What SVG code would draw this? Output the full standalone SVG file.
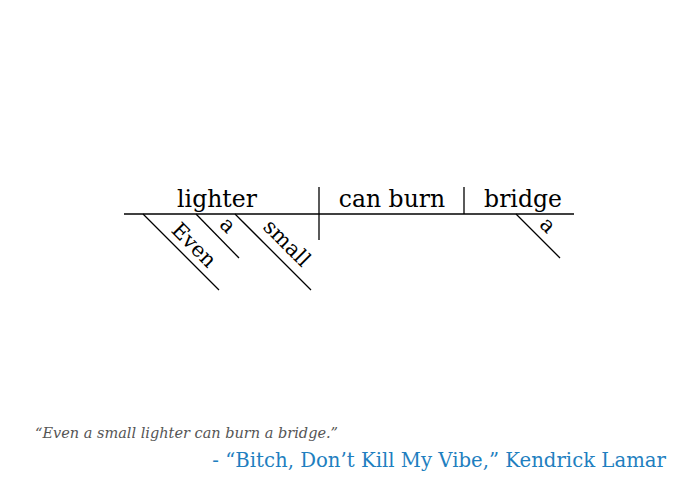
<svg xmlns="http://www.w3.org/2000/svg" width="700" height="500" viewBox="0 0 700 500">
<style>
.ln{stroke:#000;stroke-width:1.3;fill:none}
.w{font-family:"DejaVu Serif","Liberation Serif",serif;font-size:23.5px;fill:#000;text-anchor:middle}
.m{font-family:"DejaVu Serif","Liberation Serif",serif;font-size:21px;fill:#000;text-anchor:middle}
</style>
<rect width="700" height="500" fill="#fff"/>
<g id="connectors">
<line class="ln" x1="124" y1="214" x2="574" y2="214"/>
<line class="ln" x1="319" y1="187" x2="319" y2="240"/>
<line class="ln" x1="464" y1="187" x2="464" y2="214"/>
<line class="ln" x1="143" y1="214" x2="219" y2="290"/>
<line class="ln" x1="196" y1="214" x2="239" y2="258"/>
<line class="ln" x1="235" y1="214" x2="311" y2="290"/>
<line class="ln" x1="516" y1="214" x2="560" y2="258"/>
</g>
<g id="n-lighter"><text class="w" x="217" y="207">lighter</text></g>
<g id="n-canburn"><text class="w" x="392" y="207">can burn</text></g>
<g id="n-bridge"><text class="w" x="523" y="207">bridge</text></g>
<g id="n-even"><text class="m" transform="translate(189,250) rotate(45)">Even</text></g>
<g id="n-a1"><text class="m" transform="translate(223,230) rotate(45)">a</text></g>
<g id="n-small"><text class="m" transform="translate(282,248) rotate(45)">small</text></g>
<g id="n-a2"><text class="m" transform="translate(543,230) rotate(45)">a</text></g>
<g id="quote">
<text x="35" y="438" font-family="DejaVu Serif, serif" font-style="italic" font-size="14.5" fill="#555">“Even a small lighter can burn a bridge.”</text>
<text x="666" y="467" text-anchor="end" font-family="DejaVu Serif, serif" font-size="19.7" fill="#1f7fc0">- “Bitch, Don’t Kill My Vibe,” Kendrick Lamar</text>
</g>
</svg>
